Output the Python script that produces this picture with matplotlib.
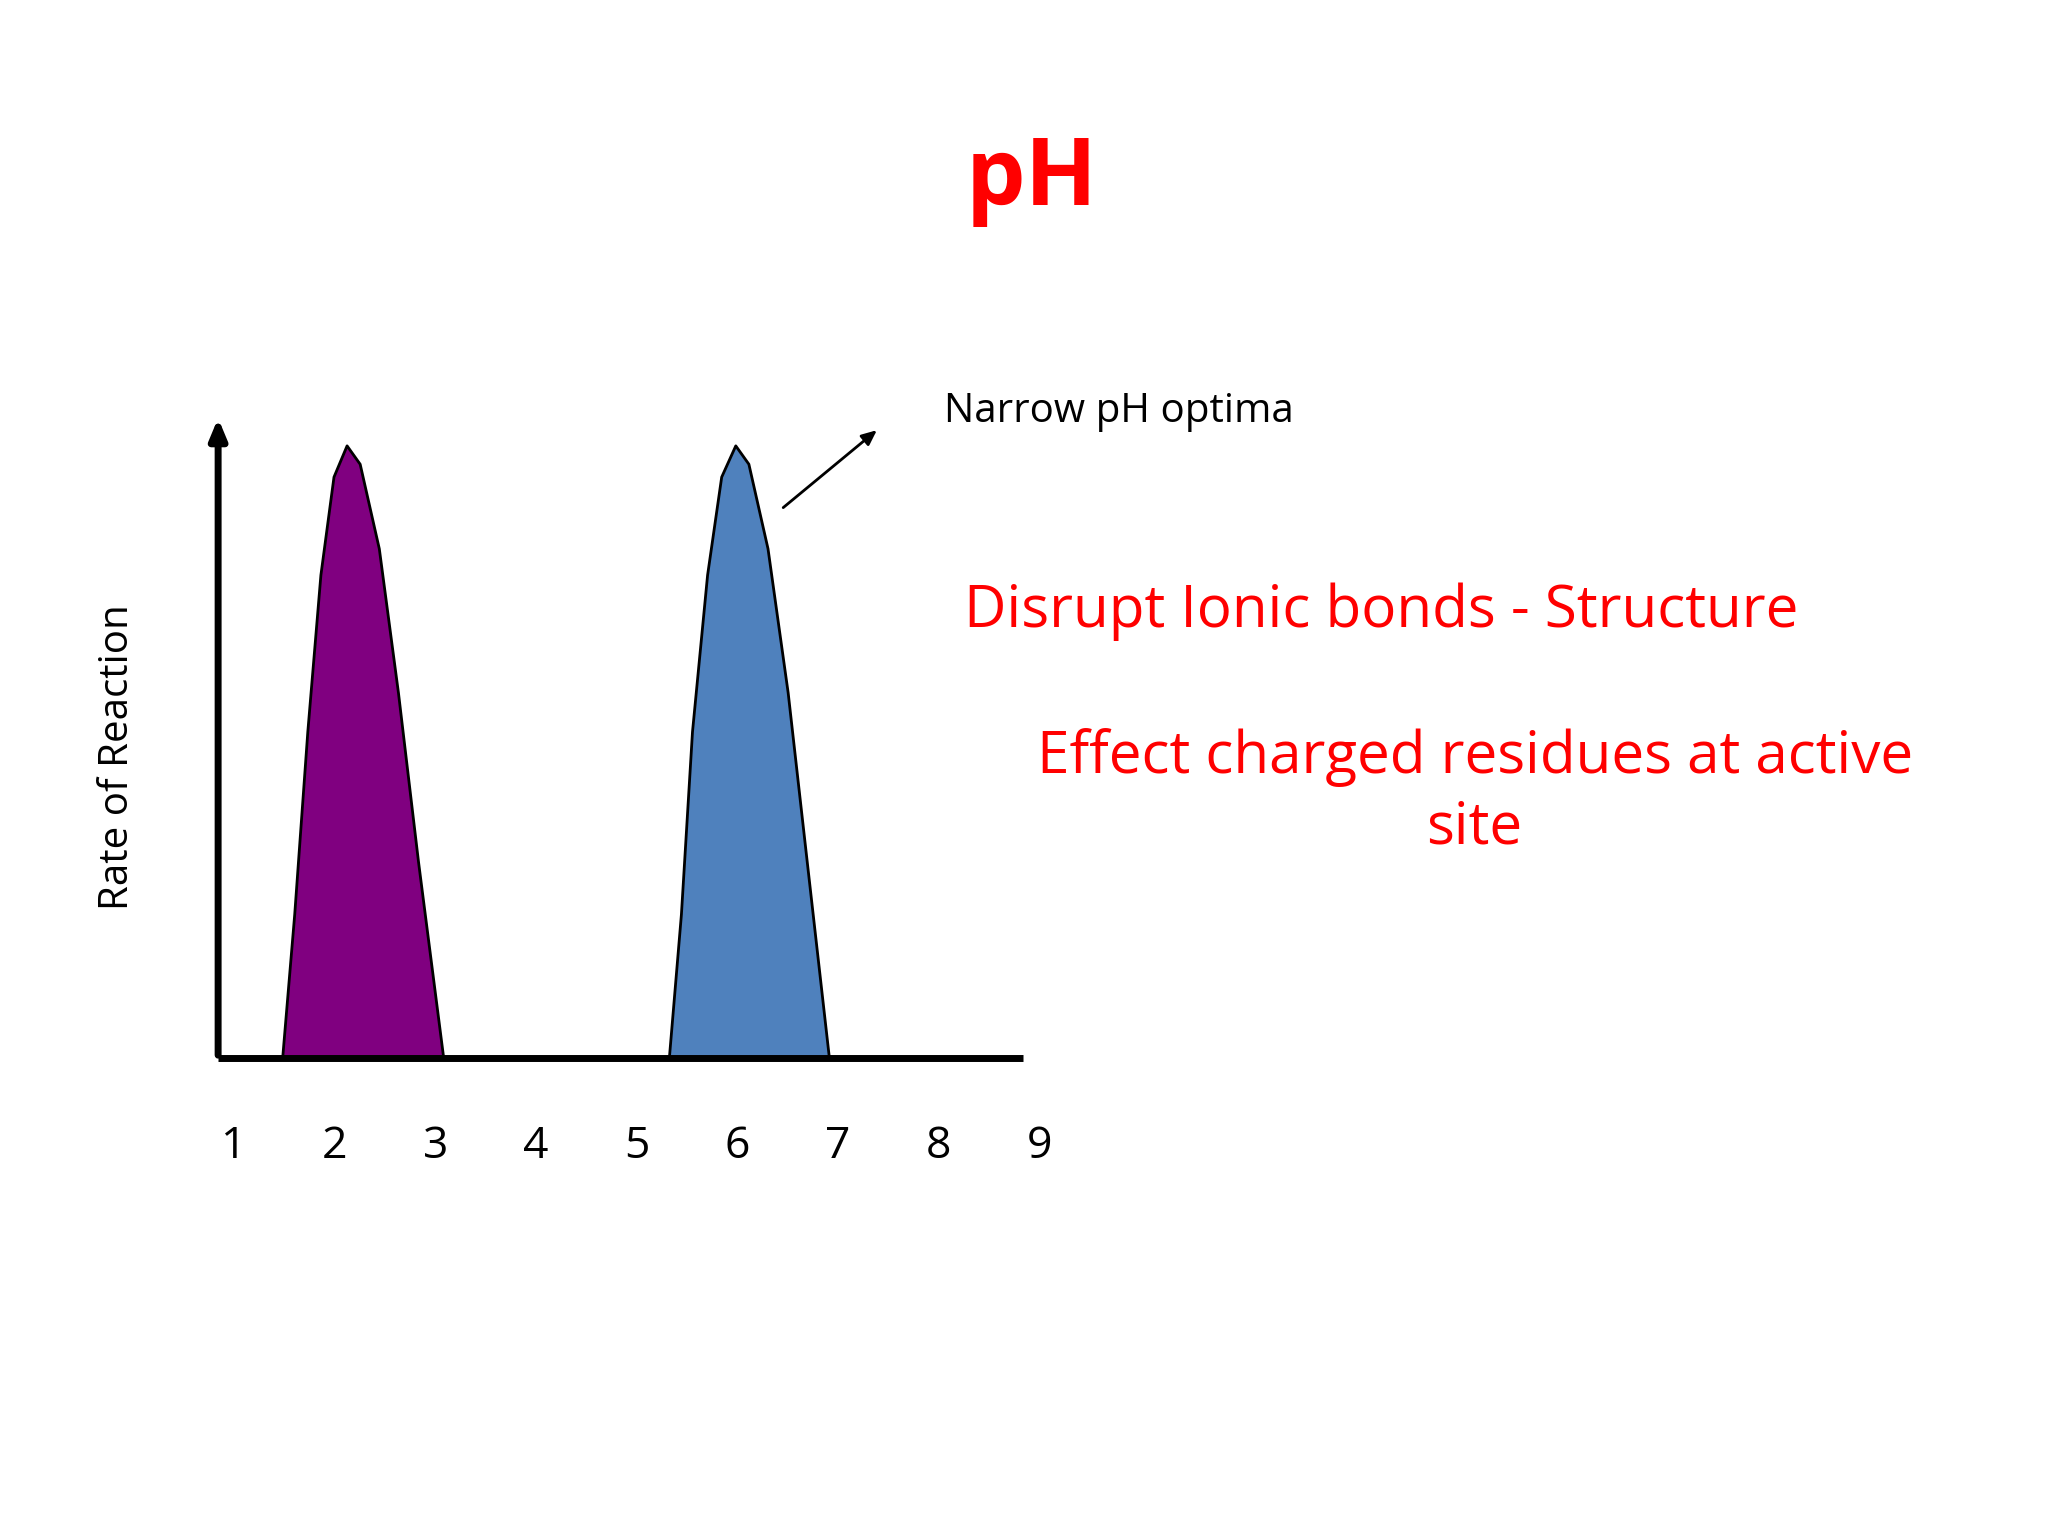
import matplotlib.pyplot as plt

plt.rcParams['font.family'] = ['Open Sans', 'DejaVu Sans']

# pH values and relative rate
ph_ticks = [1, 2, 3, 4, 5, 6, 7, 8, 9]
peak1_ph = [1.48, 1.60, 1.73, 1.86, 1.99, 2.12, 2.25, 2.44, 2.63, 2.83, 3.08]
peak2_ph = [5.32, 5.44, 5.55, 5.70, 5.84, 5.98, 6.11, 6.30, 6.50, 6.69, 6.91]
rate = [0, 0.235, 0.533, 0.789, 0.949, 1.0, 0.970, 0.832, 0.597, 0.320, 0]

W, H = 1568, 1176  # layout coordinates of the reference


def fx(px):
    return px / W


def fy(py):
    return 1 - py / H


fig = plt.figure(figsize=(20.48, 15.36), dpi=100)
ax = fig.add_axes([fx(167), fy(810), fx(783) - fx(167), fy(318) - fy(810)])
x0 = 1 + (167 - 179) / 77.1
x1 = 1 + (783 - 179) / 77.1
ax.set_xlim(x0, x1)
ax.set_ylim(0, 1.049)
ax.axis('off')

ax.fill_between(peak1_ph, rate, 0, color='#800080', edgecolor='black', linewidth=2, zorder=2)
ax.fill_between(peak2_ph, rate, 0, color='#4f81bd', edgecolor='black', linewidth=2, zorder=2)

# axes lines
ax.plot([x0, x1], [0, 0], color='black', lw=5, solid_capstyle='butt', zorder=3, clip_on=False)
ax.annotate('', xy=(x0, 1.049), xytext=(x0, 0),
            arrowprops=dict(arrowstyle='-|>,head_width=0.5,head_length=1.2', color='black', lw=5),
            annotation_clip=False)

for t in ph_ticks:
    x = fx(179 + (t - 1) * 77.1)
    fig.text(x, fy(878), str(t), ha='center', va='center', fontsize=32)

fig.text(fx(90), fy(580), 'Rate of Reaction', rotation=90, ha='center', va='center', fontsize=29)
fig.text(fx(790), fy(138), 'pH', color='#ff0000', fontweight='bold', ha='center', va='center', fontsize=68)
fig.text(fx(723), fy(315), 'Narrow pH optima', ha='left', va='center', fontsize=29)
fig.add_artist(plt.Line2D([], []))
fig.patches.append(plt.matplotlib.patches.FancyArrowPatch(
    (fx(598), fy(390)), (fx(673), fy(328)), transform=fig.transFigure,
    arrowstyle='-|>,head_width=4,head_length=9', color='black', lw=2))
fig.text(fx(738), fy(468), 'Disrupt Ionic bonds - Structure', color='#ff0000',
         ha='left', va='center', fontsize=42)
fig.text(fx(1129), fy(607), 'Effect charged residues at active\nsite', color='#ff0000',
         ha='center', va='center', fontsize=42, linespacing=1.25)

fig.savefig('out.png')
